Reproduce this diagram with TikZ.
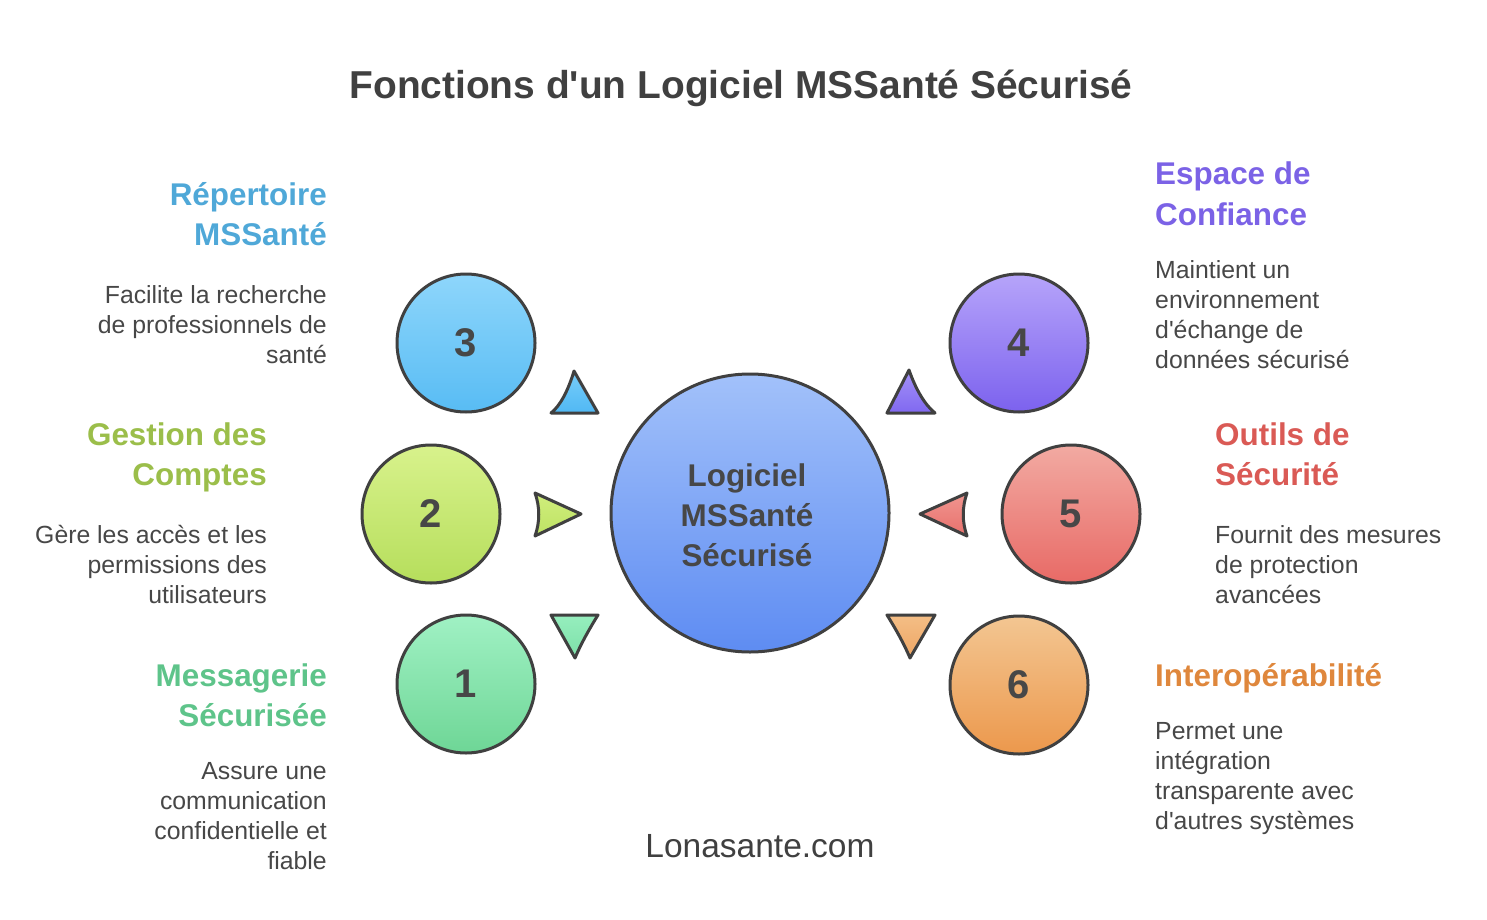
\documentclass[tikz,border=0pt]{standalone}
\usepackage{fontspec}
\setmainfont{Liberation Sans}
\definecolor{edge}{HTML}{404040}
\definecolor{ink}{HTML}{474747}
\definecolor{cblue}{HTML}{4FA8D8}
\definecolor{cgreen}{HTML}{9BBE4A}
\definecolor{cmint}{HTML}{5EC48A}
\definecolor{cviolet}{HTML}{7B62E6}
\definecolor{cred}{HTML}{DA5A55}
\definecolor{corange}{HTML}{DF873C}
\newcommand\hdfont{\fontsize{31.4}{40}\selectfont\bfseries}
\newcommand\bdfont{\fontsize{24.8}{30}\selectfont}
\tikzset{
  ring/.style={circle, draw=edge, line width=3pt, minimum size=138pt, inner sep=0pt,
    font=\fontsize{40}{46}\selectfont\bfseries, text=ink},
  tri/.style={draw=edge, line width=3pt, line join=round},
  lhead/.style={anchor=base east, inner sep=0pt, font=\hdfont},
  rhead/.style={anchor=base west, inner sep=0pt, font=\hdfont},
  lbody/.style={anchor=base east, inner sep=0pt, font=\bdfont, text=ink},
  rbody/.style={anchor=base west, inner sep=0pt, font=\bdfont, text=ink},
}
\begin{document}
\begin{tikzpicture}[x=1pt,y=-1pt]
\useasboundingbox (0,0) rectangle (1487,920);
\fill[white] (0,0) rectangle (1487,920);

% title
\node[anchor=base, inner sep=0pt, font=\fontsize{38.9}{46}\selectfont\bfseries, text=edge] (title) at (741,99) {Fonctions d\textquotesingle un Logiciel MSSanté Sécurisé};

% central circle
\node[circle, draw=edge, line width=3pt, minimum size=278pt, inner sep=0pt, top color={rgb,255:red,162;green,193;blue,250}, bottom color={rgb,255:red,94;green,140;blue,242}] (core) at (750,513) {};
\node[anchor=base, inner sep=0pt, font=\hdfont, text=ink] (coretext) at (747,486) {\begin{tabular}[t]{@{}c@{}}Logiciel\\MSSanté\\Sécurisé\end{tabular}};

% small circles
\node[ring, top color={rgb,255:red,142;green,214;blue,251}, bottom color={rgb,255:red,88;green,188;blue,244}] (c3) at (466,343) {3};
\node[ring, top color={rgb,255:red,216;green,242;blue,140}, bottom color={rgb,255:red,182;green,222;blue,92}] (c2) at (431,514) {2};
\node[ring, top color={rgb,255:red,160;green,241;blue,196}, bottom color={rgb,255:red,110;green,214;blue,150}] (c1) at (466,684) {1};
\node[ring, top color={rgb,255:red,182;green,164;blue,250}, bottom color={rgb,255:red,124;green,98;blue,238}] (c4) at (1019,343) {4};
\node[ring, top color={rgb,255:red,242;green,170;blue,162}, bottom color={rgb,255:red,232;green,106;blue,102}] (c5) at (1071,514) {5};
\node[ring, top color={rgb,255:red,243;green,198;blue,146}, bottom color={rgb,255:red,236;green,152;blue,76}] (c6) at (1019,685) {6};

% triangles
\draw[tri, top color={rgb,255:red,120;green,205;blue,250}, bottom color={rgb,255:red,80;green,184;blue,244}]
  (598,413) -- (574,371) .. controls (568,391) and (560,406) .. (551,413) -- cycle;
\draw[tri, top color={rgb,255:red,208;green,238;blue,124}, bottom color={rgb,255:red,190;green,226;blue,100}]
  (535,493) -- (581,514) -- (535,536) .. controls (540,522) and (540,507) .. cycle;
\draw[tri, top color={rgb,255:red,150;green,238;blue,190}, bottom color={rgb,255:red,124;green,224;blue,168}]
  (551,615) -- (598,615) .. controls (588,631) and (580,646) .. (575,658) -- cycle;
\draw[tri, top color={rgb,255:red,164;green,146;blue,248}, bottom color={rgb,255:red,128;green,104;blue,240}]
  (887,413) -- (909,370) .. controls (916,390) and (925,405) .. (935,413) -- cycle;
\draw[tri, top color={rgb,255:red,240;green,150;blue,144}, bottom color={rgb,255:red,232;green,112;blue,108}]
  (967,493) -- (920,514) -- (967,536) .. controls (962,522) and (962,507) .. cycle;
\draw[tri, top color={rgb,255:red,244;green,190;blue,134}, bottom color={rgb,255:red,238;green,166;blue,100}]
  (935,615) -- (887,615) .. controls (897,631) and (905,646) .. (910,658) -- cycle;

% left labels
\node[lhead, text=cblue] (h3) at (327,205) {\begin{tabular}[t]{@{}r@{}}Répertoire\\MSSanté\end{tabular}};
\node[lbody] (d3) at (327,303) {\begin{tabular}[t]{@{}r@{}}Facilite la recherche\\de professionnels de\\santé\end{tabular}};
\node[lhead, text=cgreen] (h2) at (267,445) {\begin{tabular}[t]{@{}r@{}}Gestion des\\Comptes\end{tabular}};
\node[lbody] (d2) at (267,543) {\begin{tabular}[t]{@{}r@{}}Gère les accès et les\\permissions des\\utilisateurs\end{tabular}};
\node[lhead, text=cmint] (h1) at (327,686) {\begin{tabular}[t]{@{}r@{}}Messagerie\\Sécurisée\end{tabular}};
\node[lbody] (d1) at (327,779) {\begin{tabular}[t]{@{}r@{}}Assure une\\communication\\confidentielle et\\fiable\end{tabular}};

% right labels
\node[rhead, text=cviolet] (h4) at (1155,185) {\begin{tabular}[t]{@{}l@{}}Espace de\\Confiance\end{tabular}};
\node[rbody] (d4) at (1155,278) {\begin{tabular}[t]{@{}l@{}}Maintient un\\environnement\\d\textquotesingle échange de\\données sécurisé\end{tabular}};
\node[rhead, text=cred] (h5) at (1215,445) {\begin{tabular}[t]{@{}l@{}}Outils de\\Sécurité\end{tabular}};
\node[rbody] (d5) at (1215,543) {\begin{tabular}[t]{@{}l@{}}Fournit des mesures\\de protection\\avancées\end{tabular}};
\node[rhead, text=corange] (h6) at (1155,686) {\begin{tabular}[t]{@{}l@{}}Interopérabilité\end{tabular}};
\node[rbody] (d6) at (1155,739) {\begin{tabular}[t]{@{}l@{}}Permet une\\intégration\\transparente avec\\d\textquotesingle autres systèmes\end{tabular}};

% footer
\node[anchor=base, inner sep=0pt, font=\fontsize{33.5}{40}\selectfont, text=edge] (footer) at (760,857) {Lonasante.com};
\end{tikzpicture}
\end{document}
